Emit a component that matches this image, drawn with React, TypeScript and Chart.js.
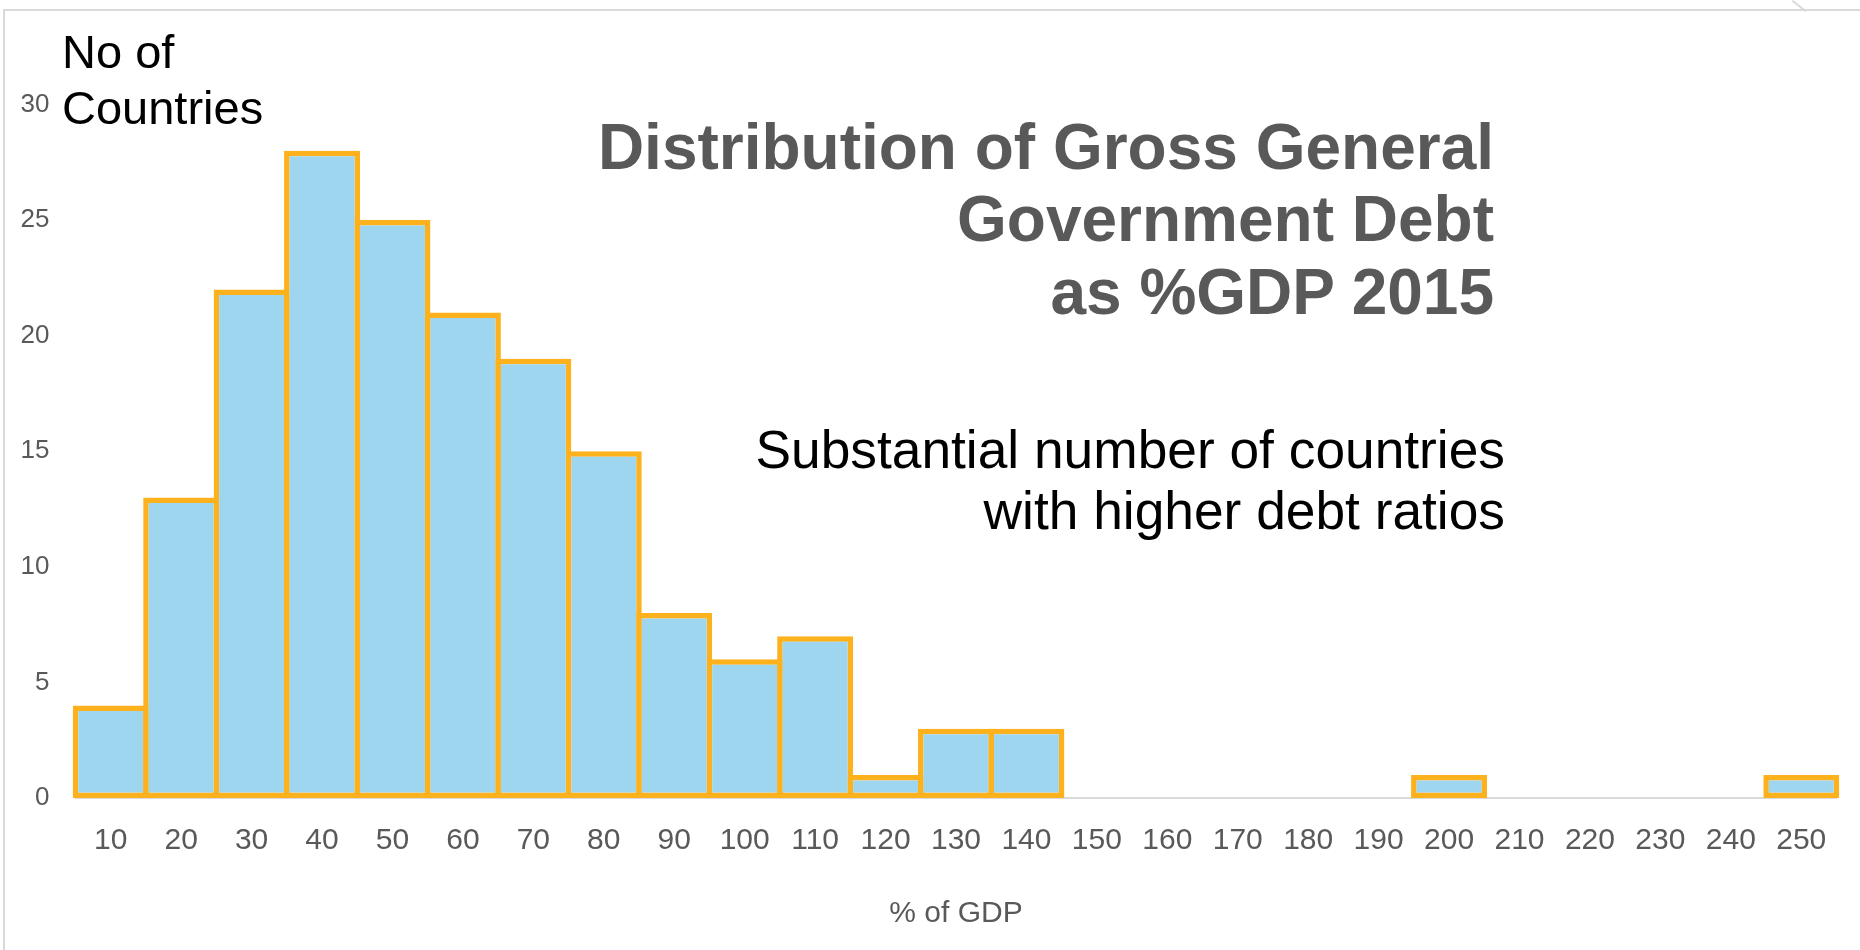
import React, { useEffect, useRef } from "react";
import { Chart, registerables } from "chart.js";

Chart.register(...registerables);

// Debt-to-GDP bins (upper bound of each 10-point band, % of GDP)
const binLabels = [
  "10", "20", "30", "40", "50", "60", "70", "80", "90", "100",
  "110", "120", "130", "140", "150", "160", "170", "180", "190", "200",
  "210", "220", "230", "240", "250",
];

// Number of countries falling in each band
const countryCounts = [
  4, 13, 22, 28, 25, 21, 19, 15, 8, 6,
  7, 1, 3, 3, 0, 0, 0, 0, 0, 1,
  0, 0, 0, 0, 1,
];

const titleLines = ["Distribution of Gross General", "Government Debt", "as %GDP 2015"];
const noteLines = ["Substantial number of countries", "with higher debt ratios"];
const yAxisCaption = ["No of", "Countries"];
const xAxisCaption = "% of GDP";

const FONT = '"Liberation Sans", Arial, Helvetica, sans-serif';
const TICK_GRAY = "#595959";
const BAR_FILL = "#9ed6ef";
const BAR_EDGE = "#fdb11c";
const EDGE_W = 5.5;

export default function App() {
  const canvasRef = useRef<HTMLCanvasElement | null>(null);

  useEffect(() => {
    const canvas = canvasRef.current;
    if (!canvas) return;
    const slot = (1860 - 23.5 - 75.5) / binLabels.length;
    const chart = new Chart(canvas, {
      type: "bar",
      data: {
        labels: binLabels,
        datasets: [
          {
            data: countryCounts,
            backgroundColor: BAR_FILL,
            borderColor: BAR_EDGE,
            borderWidth: EDGE_W,
            borderSkipped: false,
            // widen each bar by one border width so neighbouring edges share a single stroke
            barPercentage: 1 + EDGE_W / slot,
            categoryPercentage: 1,
            clip: false,
          },
        ],
      },
      options: {
        animation: false,
        responsive: false,
        maintainAspectRatio: false,
        layout: { padding: { top: 104.5, right: 23.5, left: 0, bottom: 0 } },
        plugins: {
          legend: { display: false },
          tooltip: { enabled: false },
        },
        scales: {
          x: {
            grid: { display: false, drawTicks: false },
            border: { display: true, color: "#d9d9d9", width: 2 },
            ticks: {
              color: TICK_GRAY,
              font: { family: FONT, size: 30 },
              padding: 25,
              maxRotation: 0,
              autoSkip: false,
            },
            title: {
              display: true,
              text: xAxisCaption,
              color: TICK_GRAY,
              font: { family: FONT, size: 30 },
              padding: { top: 0, bottom: 18.5 },
            },
            afterFit: (scale: any) => {
              scale.height = 152;
            },
          },
          y: {
            min: 0,
            max: 30,
            ticks: {
              stepSize: 5,
              color: TICK_GRAY,
              font: { family: FONT, size: 26 },
              padding: 26,
            },
            grid: { display: false, drawTicks: false },
            border: { display: false },
            afterFit: (scale: any) => {
              scale.width = 75.5;
            },
          },
        },
      },
    });
    return () => chart.destroy();
  }, []);

  return (
    <div
      style={{
        position: "fixed",
        left: 0,
        top: 0,
        width: 1860,
        height: 950,
        background: "#ffffff",
        overflow: "hidden",
        fontFamily: FONT,
      }}
    >
      <div
        style={{
          position: "absolute",
          left: 3,
          top: 9,
          width: 1900,
          height: 1000,
          borderLeft: "2px solid #d9d9d9",
          borderTop: "2px solid #d9d9d9",
        }}
      />
      <div
        style={{
          position: "absolute",
          left: 1793,
          top: 0,
          width: 17,
          height: 2,
          background: "#d9d9d9",
          transform: "rotate(38deg)",
          transformOrigin: "0 0",
        }}
      />
      <canvas
        ref={canvasRef}
        width={1860}
        height={950}
        style={{ position: "absolute", left: 0, top: 0, width: 1860, height: 950 }}
      />
      <div
        style={{
          position: "absolute",
          left: 62,
          top: 23.7,
          fontSize: 47,
          lineHeight: "56px",
          color: "#000000",
          whiteSpace: "pre",
        }}
      >
        {yAxisCaption.join("\n")}
      </div>
      <div
        style={{
          position: "absolute",
          right: 366,
          top: 110.5,
          fontSize: 64,
          lineHeight: "72.5px",
          fontWeight: "bold",
          color: TICK_GRAY,
          textAlign: "right",
          whiteSpace: "pre",
        }}
      >
        {titleLines.join("\n")}
      </div>
      <div
        style={{
          position: "absolute",
          right: 355,
          top: 419,
          fontSize: 53.3,
          lineHeight: "61px",
          color: "#000000",
          textAlign: "right",
          whiteSpace: "pre",
        }}
      >
        {noteLines.join("\n")}
      </div>
    </div>
  );
}
